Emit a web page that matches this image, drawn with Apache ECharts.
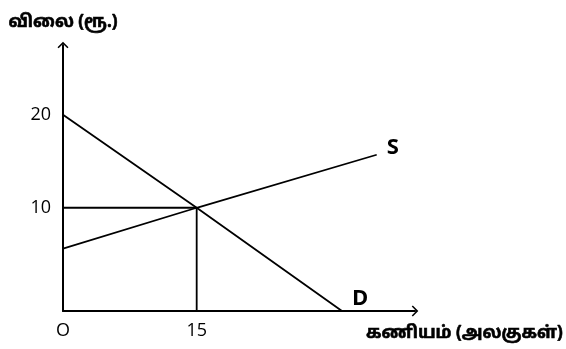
<!DOCTYPE html>
<html>
<head>
<meta charset="utf-8">
<script src="https://cdn.jsdelivr.net/npm/echarts@6/dist/echarts.min.js"></script>
<style>html,body{margin:0;padding:0;background:#fff}#c{width:566px;height:349px}</style>
</head>
<body>
<div id="c"></div>
<script>
// Data
const xTicks = [0, 15];
const xTickLabels = ['O', '15'];
const yTicks = [10, 20];
const yTickLabels = ['10', '20'];
const demand = [[0, 20], [15, 10], [31.3, -1.1]];
const supply = [[0, 5.6], [15, 10], [35.2, 15.7]];
const guide = [[0, 10], [15, 10], [15, -1.1]];
const xName = 'கணியம் (அலகுகள்)';
const yName = 'விலை (ரூ.)';

const FONT = '"Open Sans", "Noto Sans", "Noto Sans Tamil", "Lohit Tamil", sans-serif';
const chevron = 'path://M0,10 L10,0 L20,10 L18,12 L10,4 L2,12 Z';

const chart = echarts.init(document.getElementById('c'), null, {renderer: 'canvas'});
const lineStyle = {color: '#000', width: 1.8};
const nameStyle = {color: '#000', fontSize: 17, fontWeight: 'bold', fontFamily: FONT,
  textBorderColor: '#000', textBorderWidth: 0.6};
chart.setOption({
  animation: false,
  backgroundColor: '#fff',
  grid: {left: 63, right: 144, top: 45, bottom: 38, containLabel: false},
  xAxis: {
    type: 'value', min: 0, max: 39.5,
    name: xName, nameLocation: 'end', nameGap: -49,
    nameTextStyle: Object.assign({}, nameStyle, {align: 'left', verticalAlign: 'top', padding: [14, 0, 0, 0]}),
    axisLine: {show: true, onZero: false, symbol: ['none', chevron], symbolSize: [11, 7],
      lineStyle: {color: '#000', width: 2}},
    axisTick: {show: false},
    splitLine: {show: false},
    axisLabel: {customValues: xTicks, margin: 11, color: '#000', fontSize: 18, fontFamily: FONT,
      formatter: v => xTickLabels[xTicks.indexOf(v)]}
  },
  yAxis: {
    type: 'value', min: -1.1, max: 27.5,
    name: yName, nameLocation: 'end', nameGap: 14,
    nameTextStyle: nameStyle,
    axisLine: {show: true, onZero: false, symbol: ['none', chevron], symbolSize: [11, 7],
      lineStyle: {color: '#000', width: 2}},
    axisTick: {show: false},
    splitLine: {show: false},
    axisLabel: {customValues: yTicks, margin: 12, color: '#000', fontSize: 18, fontFamily: FONT,
      formatter: v => yTickLabels[yTicks.indexOf(v)]}
  },
  series: [
    {type: 'line', name: 'D', data: demand, symbol: 'none', lineStyle,
      endLabel: {show: true, formatter: 'D', color: '#000', fontSize: 22, fontWeight: 'bold',
        fontFamily: FONT, offset: [2, -12]}},
    {type: 'line', name: 'S', data: supply, symbol: 'none', lineStyle,
      endLabel: {show: true, formatter: 'S', color: '#000', fontSize: 22, fontWeight: 'bold',
        fontFamily: FONT, offset: [2, -7]}},
    {type: 'line', name: 'guide', data: guide, symbol: 'none', lineStyle}
  ]
});
</script>
</body>
</html>
